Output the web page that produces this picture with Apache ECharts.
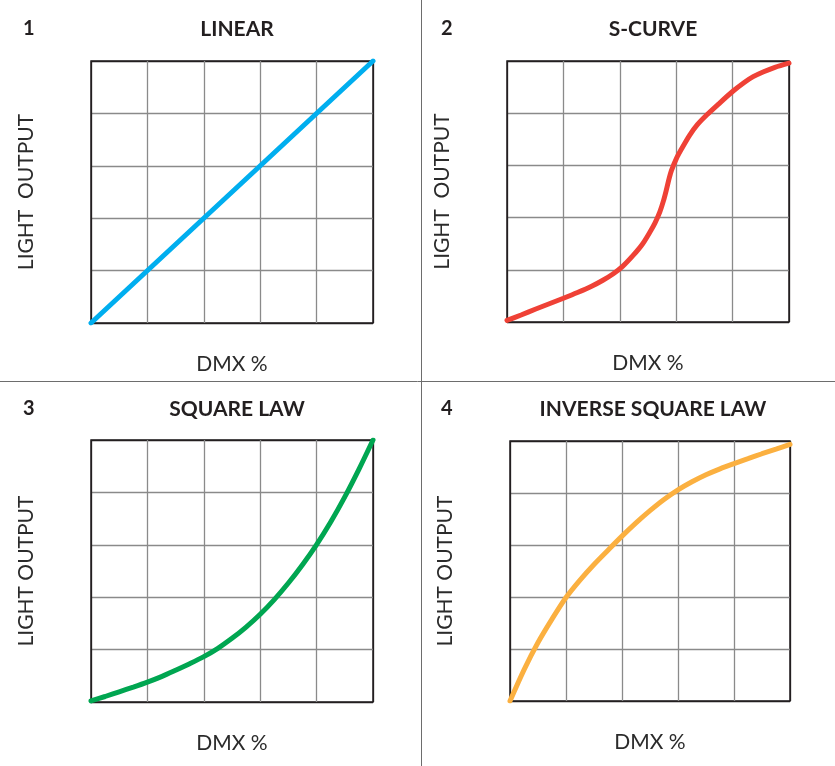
<!DOCTYPE html>
<html>
<head>
<meta charset="utf-8">
<style>
html,body{margin:0;padding:0;background:#fff;}
#c{width:835px;height:766px;}
</style>
<script src="https://cdn.jsdelivr.net/npm/echarts@6/dist/echarts.min.js"></script>
</head>
<body>
<div id="c"></div>
<script>
// ---- data ----
var panelNumbers = ['1', '2', '3', '4'];
var panelTitles = ['LINEAR', 'S-CURVE', 'SQUARE LAW', 'INVERSE SQUARE LAW'];
var xAxisNames = ['DMX %', 'DMX %', 'DMX %', 'DMX %'];
var yAxisNames = ['LIGHT  OUTPUT', 'LIGHT  OUTPUT', 'LIGHT OUTPUT', 'LIGHT OUTPUT'];

var linearX = [0, 100];
var linearY = [0, 100];

var sCurveX = [0, 5, 10, 15, 20, 25, 30, 34, 37.7, 41, 44.8, 48, 50.7, 52.5, 54.2, 55.5, 56.6, 57.5, 58.3, 60.1, 62, 64.8, 67.5, 70.8, 75, 80.2, 84, 87.3, 91, 95, 100];
var sCurveY = [0.6, 2.7, 4.9, 7, 9.1, 11.3, 13.7, 16, 18.5, 21.3, 25.6, 29.8, 34.5, 38, 42.2, 46.5, 51, 55, 58, 62.7, 66.5, 71.6, 75.6, 79.3, 83.5, 88.5, 91.7, 94, 95.9, 97.6, 99.2];

var squareX = [0, 5, 10, 15, 20, 25, 30, 35, 40, 45, 50, 55, 60, 65, 70, 75, 80, 85, 90, 95, 100];
var squareY = [0.4, 2.1, 3.9, 5.7, 7.6, 9.7, 12.1, 14.6, 17.3, 20.5, 24.3, 28.6, 33.5, 39.1, 45.4, 52.4, 60.1, 68.7, 78.3, 88.8, 100];

var invSquareX = [0, 5, 10, 15, 20, 25, 30, 35, 40, 45, 50, 55, 60, 65, 70, 75, 80, 85, 90, 95, 100];
var invSquareY = [0, 12, 22.5, 31.5, 39.8, 46.5, 52.5, 58, 63.4, 68.5, 73.2, 77.5, 81.2, 84.3, 87, 89.3, 91.3, 93.2, 95.1, 96.9, 98.7];

var curveColors = ['#00AEEF', '#EF4136', '#00A651', '#FBB040'];

// ---- layout ----
var grids = [
  {left: 91, top: 61, width: 282, height: 262},
  {left: 507, top: 61, width: 282, height: 261},
  {left: 91, top: 440, width: 282, height: 262},
  {left: 510, top: 441, width: 280, height: 260}
];
var titleCentersX = [232, 648, 232, 648];
var titleTops = [14, 14, 394, 394];
var numberLefts = [18, 436, 18, 436];

function pairs(xs, ys) {
  return xs.map(function (x, i) { return [x, ys[i]]; });
}
var seriesData = [
  pairs(linearX, linearY),
  pairs(sCurveX, sCurveY),
  pairs(squareX, squareY),
  pairs(invSquareX, invSquareY)
];

var fontFam = 'Lato, "Open Sans", "DejaVu Sans", sans-serif';
var gridLineColors = ['#231F20', '#8a8a8a', '#8a8a8a', '#8a8a8a', '#8a8a8a', '#231F20'];

var option = {
  backgroundColor: '#fff',
  animation: false,
  title: [],
  grid: [],
  xAxis: [],
  yAxis: [],
  series: [],
  graphic: [
    {type: 'line', shape: {x1: 0, y1: 381.5, x2: 835, y2: 381.5}, style: {stroke: '#6d6d6d', lineWidth: 1}},
    {type: 'line', shape: {x1: 421.5, y1: 0, x2: 421.5, y2: 766}, style: {stroke: '#6d6d6d', lineWidth: 1}}
  ]
};

for (var i = 0; i < 4; i++) {
  option.title.push({
    text: panelTitles[i], left: titleCentersX[i], top: titleTops[i], textAlign: 'center',
    textStyle: {fontFamily: fontFam, fontSize: 21, fontWeight: 'bold', color: '#231F20'}
  });
  option.title.push({
    text: panelNumbers[i], left: numberLefts[i], top: titleTops[i],
    textStyle: {fontFamily: fontFam, fontSize: 20, fontWeight: 'bold', color: '#231F20'}
  });
  option.grid.push({
    left: grids[i].left, top: grids[i].top, width: grids[i].width, height: grids[i].height,
    show: true, borderColor: '#231F20', borderWidth: 1.5, backgroundColor: 'transparent', containLabel: false
  });
  option.xAxis.push({
    type: 'value', gridIndex: i, min: 0, max: 100, interval: 20,
    name: xAxisNames[i], nameLocation: 'middle', nameGap: 31,
    nameTextStyle: {fontFamily: fontFam, fontSize: 21, fontWeight: 'normal', color: '#2b2b2b'},
    axisLine: {show: false}, axisTick: {show: false}, axisLabel: {show: false},
    splitLine: {show: true, lineStyle: {color: gridLineColors, width: 1.3}}
  });
  option.yAxis.push({
    type: 'value', gridIndex: i, min: 0, max: 100, interval: 20,
    name: yAxisNames[i], nameLocation: 'middle', nameGap: 54,
    nameTextStyle: {fontFamily: fontFam, fontSize: 21, fontWeight: 'normal', color: '#2b2b2b'},
    axisLine: {show: false}, axisTick: {show: false}, axisLabel: {show: false},
    splitLine: {show: true, lineStyle: {color: gridLineColors, width: 1.3}}
  });
  option.series.push({
    type: 'line', xAxisIndex: i, yAxisIndex: i, data: seriesData[i],
    smooth: i === 0 ? false : 0.3, showSymbol: false, symbol: 'none',
    lineStyle: {color: curveColors[i], width: 5, cap: 'round'},
    itemStyle: {color: curveColors[i]}
  });
}

var chart = echarts.init(document.getElementById('c'), null, {renderer: 'canvas'});
chart.setOption(option);
</script>
</body>
</html>
